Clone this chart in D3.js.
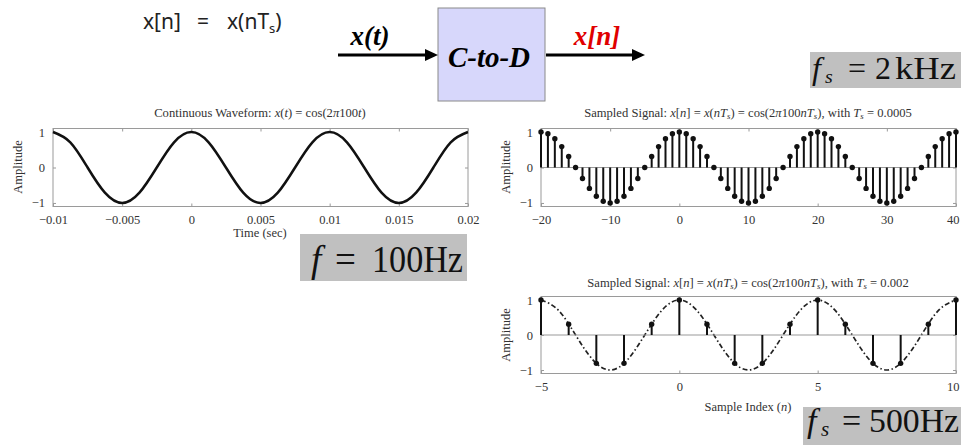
<!DOCTYPE html>
<html><head><meta charset="utf-8">
<script src="https://cdn.jsdelivr.net/npm/d3@7"></script>
<style>
body{margin:0;background:#fff}svg{display:block}
svg text{font-family:"Liberation Serif","Times New Roman",Times,serif}
svg text.sans{font-family:"Noto Sans","DejaVu Sans",sans-serif}
</style>
</head><body>
<script>
// ---------- data ----------
const contTime = [-0.01,-0.00875,-0.0075,-0.00625,-0.005,-0.00375,-0.0025,-0.00125,0,0.00125,0.0025,0.00375,0.005,0.00625,0.0075,0.00875,0.01,0.01125,0.0125,0.01375,0.015,0.01625,0.0175,0.01875,0.02];
const contAmp  = [1,0.71,0,-0.71,-1,-0.71,0,0.71,1,0.71,0,-0.71,-1,-0.71,0,0.71,1,0.71,0,-0.71,-1,-0.71,0,0.71,1];
const contTicks = [-0.01,-0.005,0,0.005,0.01,0.015,0.02];
const contTickLabels = ["\u22120.01","\u22120.005","0","0.005","0.01","0.015","0.02"];

const idxA = [-20,-19,-18,-17,-16,-15,-14,-13,-12,-11,-10,-9,-8,-7,-6,-5,-4,-3,-2,-1,0,1,2,3,4,5,6,7,8,9,10,11,12,13,14,15,16,17,18,19,20,21,22,23,24,25,26,27,28,29,30,31,32,33,34,35,36,37,38,39,40];
const ampA = [1,0.95,0.81,0.59,0.31,0,-0.31,-0.59,-0.81,-0.95,-1,-0.95,-0.81,-0.59,-0.31,0,0.31,0.59,0.81,0.95,
              1,0.95,0.81,0.59,0.31,0,-0.31,-0.59,-0.81,-0.95,-1,-0.95,-0.81,-0.59,-0.31,0,0.31,0.59,0.81,0.95,
              1,0.95,0.81,0.59,0.31,0,-0.31,-0.59,-0.81,-0.95,-1,-0.95,-0.81,-0.59,-0.31,0,0.31,0.59,0.81,0.95,1];
const ticksA = [-20,-10,0,10,20,30,40];
const tickLabelsA = ["\u221220","\u221210","0","10","20","30","40"];

const idxB = [-5,-4,-3,-2,-1,0,1,2,3,4,5,6,7,8,9,10];
const ampB = [1,0.31,-0.81,-0.81,0.31,1,0.31,-0.81,-0.81,0.31,1,0.31,-0.81,-0.81,0.31,1];
const envIdxB = [-5,-4.375,-3.75,-3.125,-2.5,-1.875,-1.25,-0.625,0,0.625,1.25,1.875,2.5,3.125,3.75,4.375,5,5.625,6.25,6.875,7.5,8.125,8.75,9.375,10];
const envAmpB = [1,0.71,0,-0.71,-1,-0.71,0,0.71,1,0.71,0,-0.71,-1,-0.71,0,0.71,1,0.71,0,-0.71,-1,-0.71,0,0.71,1];
const ticksB = [-5,0,5,10];
const tickLabelsB = ["\u22125","0","5","10"];

const yTicks = [-1,0,1];
const yTickLabels = ["\u22121","0","1"];

// ---------- drawing ----------
const W = 961, H = 445;
const svg = d3.select("body").append("svg").attr("width", W).attr("height", H);
const frameCol = "#9a9a9a";
const txtCol = "#333";

function frame(x, y, xTicks, xLabels) {
  const g = svg.append("g");
  const [x0, x1] = x.range(), [y0, y1] = y.range();
  const fmtX = d => xLabels[xTicks.indexOf(d)];
  const fmtY = d => yTickLabels[yTicks.indexOf(d)];
  const ax = (axis, tr) => {
    const a = g.append("g").attr("transform", tr).call(axis);
    a.select(".domain").remove();
    a.selectAll("line").attr("stroke", frameCol);
    a.selectAll("text").attr("font-size", 12.5).attr("fill", txtCol);
    return a;
  };
  const bx = ax(d3.axisBottom(x).tickValues(xTicks).tickFormat(fmtX).tickSize(-3).tickPadding(9), `translate(0,${y0})`);
  bx.selectAll(".tick text").filter(d => x(d) > W - 12).attr("text-anchor", "end").attr("x", d => W - 2 - x(d));
  ax(d3.axisTop(x).tickValues(xTicks).tickFormat("").tickSize(-3), `translate(0,${y1})`);
  ax(d3.axisLeft(y).tickValues(yTicks).tickFormat(fmtY).tickSize(-3).tickPadding(8), `translate(${x0},0)`);
  ax(d3.axisRight(y).tickValues(yTicks).tickFormat("").tickSize(-3), `translate(${x1},0)`);
  g.append("rect").attr("x", x0).attr("y", y1).attr("width", x1 - x0).attr("height", y0 - y1)
    .attr("fill", "none").attr("stroke", frameCol).attr("stroke-width", 1);
  return g;
}

function title(cx, by, parts, size) {
  size = size || 12.6;
  const t = svg.append("text").attr("x", cx).attr("y", by).attr("text-anchor", "middle")
    .attr("font-size", size).attr("fill", txtCol);
  parts.forEach(p => {
    const s = t.append("tspan").text(p[0]);
    if (p[1] === "i") s.attr("font-style", "italic");
    if (p[1] === "sub") s.attr("font-size", size * 0.7).attr("dy", 2).attr("font-style", "italic");
    if (p[1] === "after") s.attr("dy", -2);
  });
  return t;
}

function ylab(x, y) {
  svg.append("text").attr("transform", `translate(${x},${y}) rotate(-90)`).attr("text-anchor", "middle")
    .attr("font-size", 12.5).attr("fill", txtCol).text("Amplitude");
}

// Plot 1: continuous
{
  const x = d3.scaleLinear().domain([-0.01, 0.02]).range([53, 468]);
  const y = d3.scaleLinear().domain([-1.1, 1.1]).range([206.5, 128.5]);
  frame(x, y, contTicks, contTickLabels);
  svg.append("path").datum(contTime.map((t, i) => [t, contAmp[i]]))
    .attr("d", d3.line().x(d => x(d[0])).y(d => y(d[1])).curve(d3.curveNatural))
    .attr("fill", "none").attr("stroke", "#111").attr("stroke-width", 2.5);
  title(260, 117, [["Continuous Waveform: "], ["x", "i"], ["("], ["t", "i"], [") = cos(2"], ["\u03c0", "i"], ["100"], ["t", "i"], [")"]]);
  svg.append("text").attr("x", 260).attr("y", 237).attr("text-anchor", "middle")
    .attr("font-size", 12.5).attr("fill", txtCol).text("Time (sec)");
  ylab(22, 167);
}

function stems(x, y, idx, amp) {
  svg.append("line").attr("x1", x.range()[0]).attr("x2", x.range()[1]).attr("y1", y(0)).attr("y2", y(0))
    .attr("stroke", "#999").attr("stroke-width", 1.2);
  const g = svg.append("g");
  g.selectAll("line").data(idx).join("line")
    .attr("x1", d => x(d)).attr("x2", d => x(d)).attr("y1", y(0)).attr("y2", (d, i) => y(amp[i]))
    .attr("stroke", "#111").attr("stroke-width", 2);
  g.selectAll("circle").data(idx).join("circle")
    .attr("cx", d => x(d)).attr("cy", (d, i) => y(amp[i])).attr("r", 2.7).attr("fill", "#111");
}

// Plot 2: Ts = 0.0005
{
  const x = d3.scaleLinear().domain([-20, 40]).range([541, 956]);
  const y = d3.scaleLinear().domain([-1.1, 1.1]).range([206.5, 128.5]);
  frame(x, y, ticksA, tickLabelsA);
  stems(x, y, idxA, ampA);
  title(748, 117, [["Sampled Signal: "], ["x", "i"], ["["], ["n", "i"], ["] = "], ["x", "i"], ["("], ["nT", "i"], ["s", "sub"], [")", "after"],
    [" = cos(2"], ["\u03c0", "i"], ["100"], ["nT", "i"], ["s", "sub"], ["), with ", "after"], ["T", "i"], ["s", "sub"], [" = 0.0005", "after"]]);
  ylab(510, 167);
}

// Plot 3: Ts = 0.002
{
  const x = d3.scaleLinear().domain([-5, 10]).range([541, 956]);
  const y = d3.scaleLinear().domain([-1.1, 1.1]).range([373.5, 296.5]);
  frame(x, y, ticksB, tickLabelsB);
  svg.append("path").datum(envIdxB.map((t, i) => [t, envAmpB[i]]))
    .attr("d", d3.line().x(d => x(d[0])).y(d => y(d[1])).curve(d3.curveNatural))
    .attr("fill", "none").attr("stroke", "#222").attr("stroke-width", 1.7).attr("stroke-dasharray", "5,2.5,1.5,2.5");
  stems(x, y, idxB, ampB);
  title(748, 287, [["Sampled Signal: "], ["x", "i"], ["["], ["n", "i"], ["] = "], ["x", "i"], ["("], ["nT", "i"], ["s", "sub"], [")", "after"],
    [" = cos(2"], ["\u03c0", "i"], ["100"], ["nT", "i"], ["s", "sub"], ["), with ", "after"], ["T", "i"], ["s", "sub"], [" = 0.002", "after"]]);
  svg.append("text").attr("x", 748).attr("y", 411).attr("text-anchor", "middle")
    .attr("font-size", 12.5).attr("fill", txtCol)
    .call(t => { t.append("tspan").text("Sample Index ("); t.append("tspan").attr("font-style", "italic").text("n"); t.append("tspan").text(")"); });
  ylab(510, 335);
}

// ---------- top diagram ----------
{
  const t = svg.append("text").attr("class", "sans").attr("y", 29)
    .attr("font-size", 21).attr("fill", "#222");
  t.append("tspan").attr("x", 143).text("x[n]");
  t.append("tspan").attr("x", 197).text("=");
  t.append("tspan").attr("x", 227).text("x(nT");
  t.append("tspan").attr("font-size", 13).attr("dy", 4).text("s");
  t.append("tspan").attr("dy", -4).text(")");

  svg.append("rect").attr("x", 438).attr("y", 8).attr("width", 107).attr("height", 93)
    .attr("fill", "#d7d7fb").attr("stroke", "#8a8a8a").attr("stroke-width", 1);
  svg.append("text").attr("x", 489).attr("y", 67).attr("text-anchor", "middle")
    .attr("font-weight", "bold").attr("font-style", "italic")
    .attr("font-size", 29).attr("fill", "#000").text("C-to-D");

  const arrow = (xa, xb, yv) => {
    svg.append("line").attr("x1", xa).attr("x2", xb - 10).attr("y1", yv).attr("y2", yv)
      .attr("stroke", "#000").attr("stroke-width", 3.2);
    svg.append("path").attr("d", `M${xb},${yv} L${xb - 13},${yv - 6} L${xb - 13},${yv + 6} Z`).attr("fill", "#000");
  };
  arrow(338, 438, 55);
  arrow(546, 645, 55);
  svg.append("text").attr("x", 370).attr("y", 45).attr("text-anchor", "middle")
    .attr("font-weight", "bold").attr("font-style", "italic")
    .attr("font-size", 27).attr("fill", "#000").text("x(t)");
  svg.append("text").attr("x", 597).attr("y", 45).attr("text-anchor", "middle")
    .attr("font-weight", "bold").attr("font-style", "italic")
    .attr("font-size", 27).attr("fill", "#e00000").text("x[n]");
}

// ---------- gray labels ----------
function bigLabel(bx, by, bw, bh, ty, size, parts) {
  svg.append("rect").attr("x", bx).attr("y", by).attr("width", bw).attr("height", bh).attr("fill", "#c0c0c0");
  parts.forEach(p => {
    const t = svg.append("text").attr("x", p[1]).attr("y", p[2] === "sub" ? ty + 4 : ty)
      .attr("font-size", p[2] === "sub" ? size * 0.62 : size).attr("fill", "#111").text(p[0]);
    if (p[2] === "i" || p[2] === "sub") t.attr("font-style", "italic");
    if (p[3]) t.attr("textLength", p[3]).attr("lengthAdjust", "spacingAndGlyphs");
  });
}
bigLabel(810, 52, 151, 36, 79, 32, [["f", 812, "i"], ["s", 825, "sub"], ["=", 848], ["2", 875], ["kHz", 895, null, 61]]);
bigLabel(300, 234, 167, 47, 272, 37, [["f", 311, "i"], ["=", 335], ["100Hz", 372, null, 91]]);
bigLabel(803, 407, 158, 38, 432, 34, [["f", 807, "i"], ["s", 821, "sub"], ["=", 842], ["500Hz", 869, null, 90]]);
</script>
</body></html>
